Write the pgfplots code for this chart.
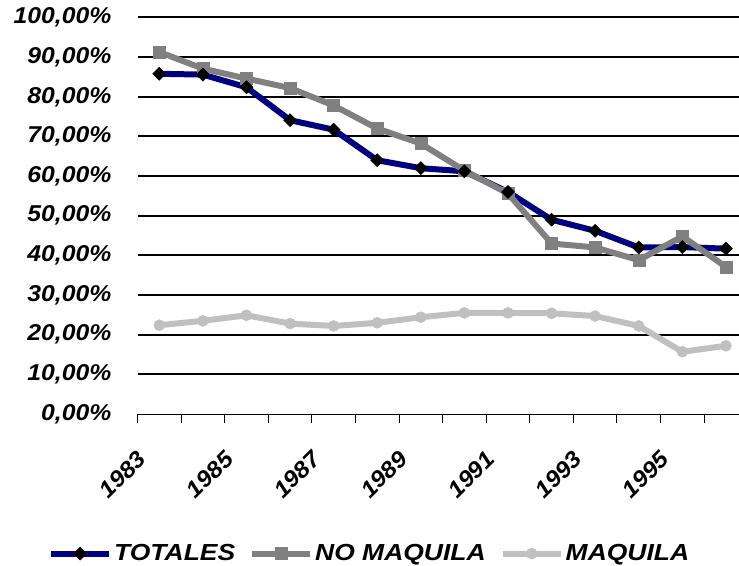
\documentclass[border=0pt]{standalone}
\usepackage{fontspec}
\setmainfont{Liberation Sans}[FakeStretch=1.08]
\newfontfamily\legfont{Liberation Sans}[FakeStretch=1.14]
\usepackage{pgfplots}
\pgfplotsset{compat=1.18}
\definecolor{totc}{RGB}{0,0,128}
\definecolor{noc}{RGB}{128,128,128}
\definecolor{maqc}{RGB}{192,192,192}
\newcommand{\lbl}{\bfseries\itshape\fontsize{23}{27}\selectfont}
\newcommand{\llbl}{\legfont\bfseries\itshape\fontsize{23.3}{27}\selectfont}
\newcommand{\zl}{0,00\%}
\begin{document}
\begin{tikzpicture}
\path[use as bounding box] (0,0) rectangle (739bp,566bp);
\begin{axis}[
  at={(137.5bp,152bp)}, anchor=south west,
  scale only axis, width=601.5bp, height=396.5bp,
  xmin=-0.5, xmax=13.3, ymin=0, ymax=100,
  axis x line*=bottom, axis y line*=left,
  y axis line style={draw=none},
  x axis line style={black, line width=1bp},
  /pgf/number format/assume math mode=true,
  ytick={10,20,...,100},
  yticklabels={{10,00\%},{20,00\%},{30,00\%},{40,00\%},{50,00\%},{60,00\%},{70,00\%},{80,00\%},{90,00\%},{100,00\%}},
  extra y ticks={0},
  extra y tick labels={\zl},
  extra y tick style={grid=none},
  ymajorgrids, grid style={black, line width=2bp},
  ytick style={draw=none},
  xtick={0,2,...,12},
  xticklabels={1983,1985,1987,1989,1991,1993,1995},
  minor xtick={-0.5,0.5,...,12.5},
  major x tick style={draw=none},
  minor x tick style={black, line width=1bp},
  tick align=outside, major tick length=0pt, minor tick length=9bp,
  tick label style={font=\lbl},
  yticklabel style={anchor=east, inner sep=0pt, xshift=-26bp},
  xticklabel style={xshift=-23bp, yshift=-35bp, rotate=45, anchor=north east, inner sep=0pt},
  legend style={at={(0.386,-0.352)}, anchor=center, draw=none, fill=none, legend columns=-1, font=\llbl,
    /tikz/every even column/.append style={column sep=12bp}},
  legend image code/.code={\draw[#1, mark repeat=2, mark phase=2] plot coordinates {(0bp,0bp)(29bp,0bp)(58bp,0bp)};},
]
\addlegendimage{totc, line width=6bp, mark=square*, mark size=4.6bp, mark options={rotate=45, fill=black, draw=black, line width=0.5bp}}
\addlegendentry{TOTALES}
\addlegendimage{noc, line width=6bp, mark=square*, mark size=6bp, mark options={fill=noc, draw=noc, line width=0.5bp}}
\addlegendentry{NO MAQUILA}
\addlegendimage{maqc, line width=6bp, mark=*, mark size=5.5bp, mark options={fill=maqc, draw=maqc, line width=0.5bp}}
\addlegendentry{MAQUILA}

% TOTALES line
\addplot[forget plot, totc, line width=6bp, no markers] coordinates {
(0,85.8)(1,85.6)(2,82.4)(3,74.1)(4,71.7)(5,64.0)(6,62.0)(7,61.2)(8,56.0)(9,49.0)(10,46.2)(11,42.0)(12,42.1)(13,41.7)};
% NO MAQUILA
\addplot[forget plot, noc, line width=6bp, mark=square*, mark size=6bp, mark options={fill=noc, draw=noc, line width=0.5bp}] coordinates {
(0,91.3)(1,87.1)(2,84.6)(3,82.2)(4,77.8)(5,72.0)(6,68.2)(7,61.4)(8,55.6)(9,43.0)(10,42.0)(11,38.8)(12,44.8)(13,37.1)};
% MAQUILA
\addplot[forget plot, maqc, line width=6bp, mark=*, mark size=5.5bp, mark options={fill=maqc, draw=maqc, line width=0.5bp}] coordinates {
(0,22.4)(1,23.5)(2,24.9)(3,22.8)(4,22.2)(5,23.0)(6,24.4)(7,25.5)(8,25.5)(9,25.4)(10,24.7)(11,22.2)(12,15.7)(13,17.2)};
% TOTALES markers
\addplot[forget plot, only marks, mark=square*, mark size=4.6bp, mark options={rotate=45, fill=black, draw=black, line width=0.5bp}] coordinates {
(0,85.8)(1,85.6)(2,82.4)(3,74.1)(4,71.7)(5,64.0)(6,62.0)(7,61.2)(8,56.0)(9,49.0)(10,46.2)(11,42.0)(12,42.1)(13,41.7)};
\end{axis}
\end{tikzpicture}
\end{document}
